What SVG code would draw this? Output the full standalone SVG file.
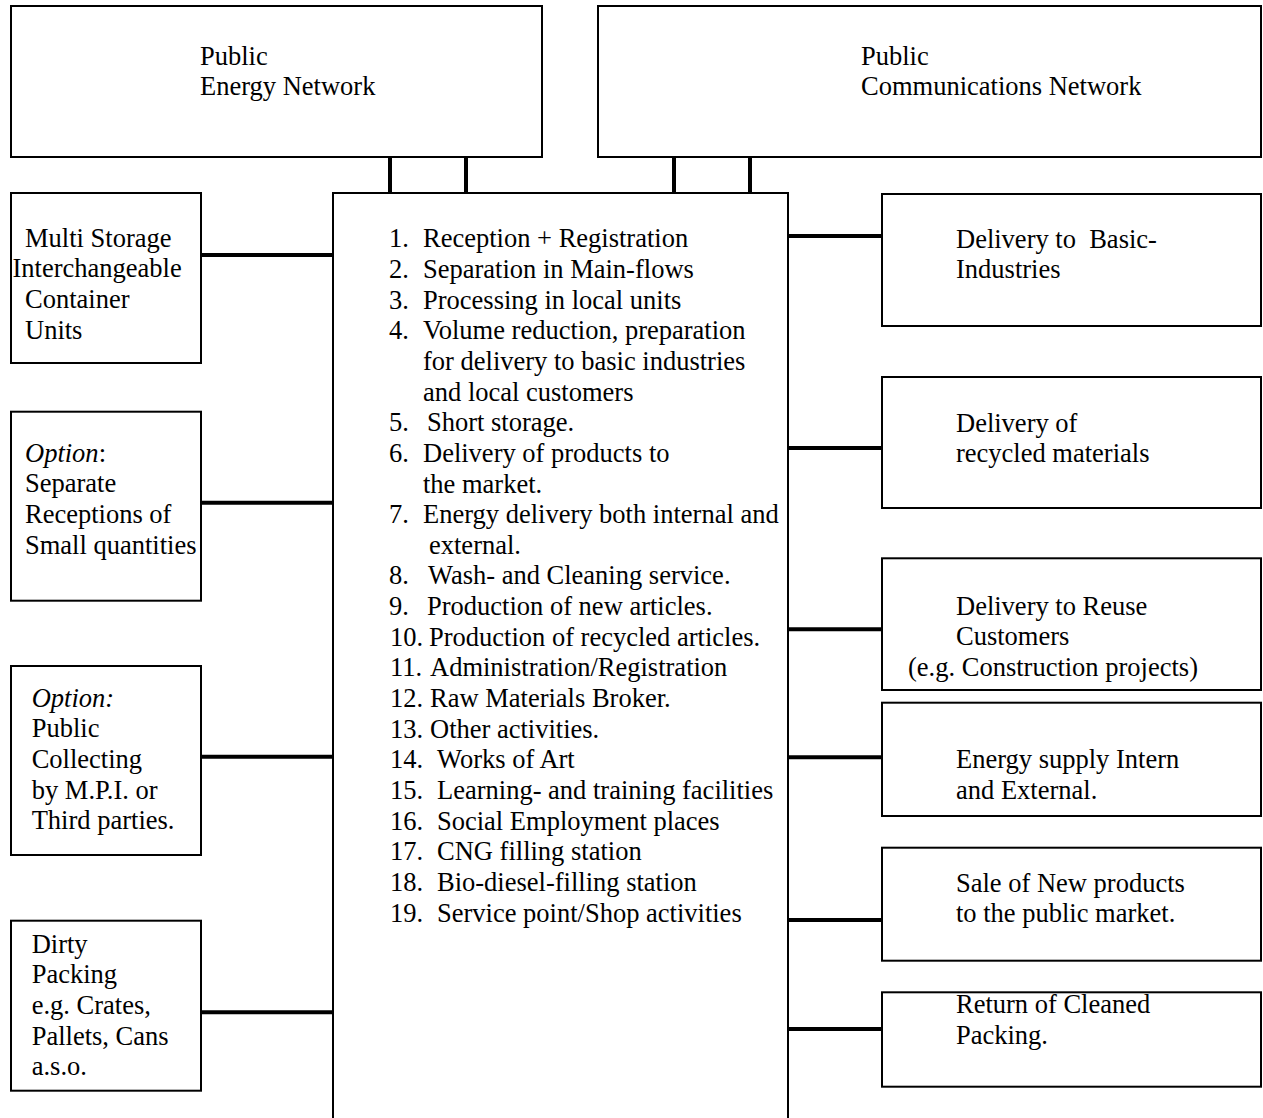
<svg xmlns="http://www.w3.org/2000/svg" width="1263" height="1118" viewBox="0 0 1263 1118">
<style>
  .box { fill: #fff; stroke: #000; stroke-width: 2; }
  .edge { fill: none; stroke: #000; stroke-width: 2; }
  .conn { stroke: #000; stroke-width: 4; fill: none; }
  text { font-family: "Liberation Serif", "Times New Roman", serif; font-size: 26.5px; fill: #000; white-space: pre; }
  .it { font-style: italic; }
</style>
<rect width="1263" height="1118" fill="#fff"/>

<g id="connectors">
  <line class="conn" x1="390" y1="157" x2="390" y2="194"/>
  <line class="conn" x1="466" y1="157" x2="466" y2="194"/>
  <line class="conn" x1="674" y1="157" x2="674" y2="194"/>
  <line class="conn" x1="750" y1="157" x2="750" y2="194"/>
  <line class="conn" x1="201" y1="255" x2="333" y2="255"/>
  <line class="conn" x1="201" y1="502.7" x2="333" y2="502.7"/>
  <line class="conn" x1="201" y1="756.7" x2="333" y2="756.7"/>
  <line class="conn" x1="201" y1="1012.3" x2="333" y2="1012.3"/>
  <line class="conn" x1="788" y1="236" x2="882" y2="236"/>
  <line class="conn" x1="788" y1="448" x2="882" y2="448"/>
  <line class="conn" x1="788" y1="629.3" x2="882" y2="629.3"/>
  <line class="conn" x1="788" y1="757.3" x2="882" y2="757.3"/>
  <line class="conn" x1="788" y1="920" x2="882" y2="920"/>
  <line class="conn" x1="788" y1="1029" x2="882" y2="1029"/>
</g>

<g id="energy-network">
  <rect class="box" x="11" y="6" width="531" height="151"/>
  <text x="200" y="64.5">Public</text>
  <text x="200" y="95">Energy Network</text>
</g>

<g id="communications-network">
  <rect class="box" x="598" y="6" width="663" height="151"/>
  <text x="861" y="64.5">Public</text>
  <text x="861" y="95">Communications Network</text>
</g>

<g id="central">
  <path class="edge" d="M333 1118 V193 H788 V1118"/>
  <text x="389" y="247.3">1.</text><text x="423" y="247.3">Reception + Registration</text>
  <text x="389" y="277.95">2.</text><text x="423" y="277.95">Separation in Main-flows</text>
  <text x="389" y="308.6">3.</text><text x="423" y="308.6">Processing in local units</text>
  <text x="389" y="339.25">4.</text><text x="423" y="339.25">Volume reduction, preparation</text>
  <text x="423" y="369.9">for delivery to basic industries</text>
  <text x="423" y="400.55">and local customers</text>
  <text x="389" y="431.2">5.</text><text x="427" y="431.2">Short storage.</text>
  <text x="389" y="461.85">6.</text><text x="423" y="461.85">Delivery of products to</text>
  <text x="423" y="492.5">the market.</text>
  <text x="389" y="523.15">7.</text><text x="423" y="523.15">Energy delivery both internal and</text>
  <text x="429" y="553.8">external.</text>
  <text x="389" y="584.45">8.</text><text x="428" y="584.45">Wash- and Cleaning service.</text>
  <text x="389" y="615.1">9.</text><text x="427" y="615.1">Production of new articles.</text>
  <text x="390" y="645.75">10.</text><text x="429" y="645.75">Production of recycled articles.</text>
  <text x="390" y="676.4">11.</text><text x="430" y="676.4">Administration/Registration</text>
  <text x="390" y="707.05">12.</text><text x="430" y="707.05">Raw Materials Broker.</text>
  <text x="390" y="737.7">13.</text><text x="430" y="737.7">Other activities.</text>
  <text x="390" y="768.35">14.</text><text x="437" y="768.35">Works of Art</text>
  <text x="390" y="799">15.</text><text x="437" y="799">Learning- and training facilities</text>
  <text x="390" y="829.65">16.</text><text x="437" y="829.65">Social Employment places</text>
  <text x="390" y="860.3">17.</text><text x="437" y="860.3">CNG filling station</text>
  <text x="390" y="890.95">18.</text><text x="437" y="890.95">Bio-diesel-filling station</text>
  <text x="390" y="921.6">19.</text><text x="437" y="921.6">Service point/Shop activities</text>
</g>

<g id="multi-storage">
  <rect class="box" x="11" y="193" width="190" height="170"/>
  <text x="25" y="246.7">Multi Storage</text>
  <text x="12.5" y="277.3">Interchangeable</text>
  <text x="25" y="307.9">Container</text>
  <text x="25" y="338.5">Units</text>
</g>

<g id="separate-receptions">
  <rect class="box" x="11" y="411.7" width="190" height="189"/>
  <text x="25" y="461.7"><tspan class="it">Option</tspan>:</text>
  <text x="25" y="492.3">Separate</text>
  <text x="25" y="522.9">Receptions of</text>
  <text x="25" y="553.5">Small quantities</text>
</g>

<g id="public-collecting">
  <rect class="box" x="11" y="666" width="190" height="189"/>
  <text class="it" x="31.7" y="706.7">Option:</text>
  <text x="31.7" y="737.3">Public</text>
  <text x="31.7" y="767.9">Collecting</text>
  <text x="31.7" y="798.5">by M.P.I. or</text>
  <text x="31.7" y="829.1">Third parties.</text>
</g>

<g id="dirty-packing">
  <rect class="box" x="11" y="920.7" width="190" height="170"/>
  <text x="31.7" y="952.7">Dirty</text>
  <text x="31.7" y="983.3">Packing</text>
  <text x="31.7" y="1013.9">e.g. Crates,</text>
  <text x="31.7" y="1044.5">Pallets, Cans</text>
  <text x="31.7" y="1075.1">a.s.o.</text>
</g>

<g id="basic-industries">
  <rect class="box" x="882" y="194" width="379" height="132"/>
  <text x="956" y="247.8">Delivery to  Basic-</text>
  <text x="956" y="278.4">Industries</text>
</g>

<g id="recycled-materials">
  <rect class="box" x="882" y="377" width="379" height="131"/>
  <text x="956" y="431.5">Delivery of</text>
  <text x="956" y="462.1">recycled materials</text>
</g>

<g id="reuse-customers">
  <rect class="box" x="882" y="558.3" width="379" height="131.7"/>
  <text x="956" y="614.8">Delivery to Reuse</text>
  <text x="956" y="645.4">Customers</text>
  <text x="908" y="676">(e.g. Construction projects)</text>
</g>

<g id="energy-supply">
  <rect class="box" x="882" y="702.7" width="379" height="113.3"/>
  <text x="956" y="768.3">Energy supply Intern</text>
  <text x="956" y="798.9">and External.</text>
</g>

<g id="sale-new-products">
  <rect class="box" x="882" y="847.7" width="379" height="113"/>
  <text x="956" y="891.5">Sale of New products</text>
  <text x="956" y="922.1">to the public market.</text>
</g>

<g id="cleaned-packing">
  <rect class="box" x="882" y="992.3" width="379" height="94.4"/>
  <text x="956" y="1013.3">Return of Cleaned</text>
  <text x="956" y="1043.9">Packing.</text>
</g>
</svg>
